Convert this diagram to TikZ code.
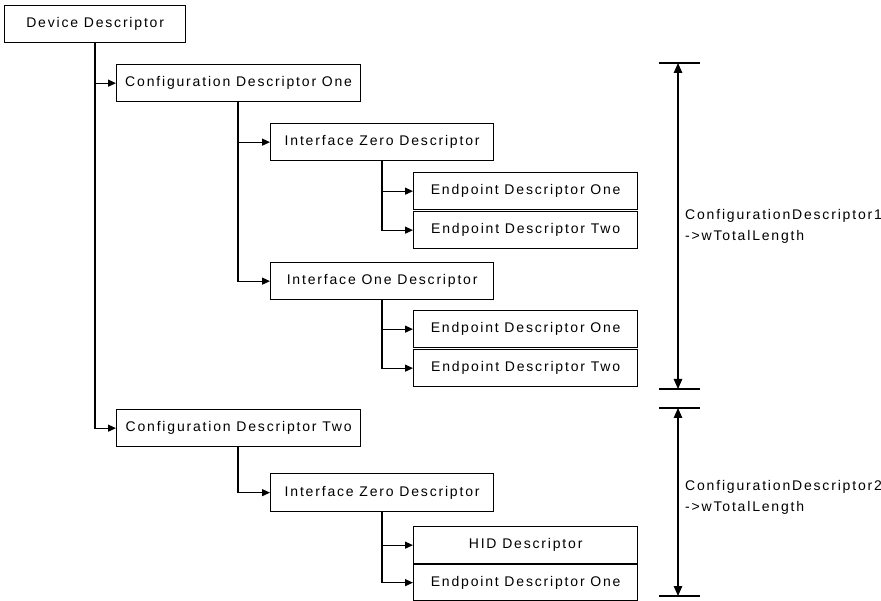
\documentclass[tikz,border=0pt]{standalone}
\usepackage{fontspec}
\setmainfont{Liberation Sans}[LetterSpace=13]
\usetikzlibrary{arrows.meta}
\begin{document}
\begin{tikzpicture}[x=1pt,y=-1pt,
  txt/.style={font=\fontsize{14}{21}\selectfont},
  box/.style={txt, draw, line width=1.3pt, minimum height=37pt, inner sep=0pt, anchor=north west},
  cfgbox/.style={box, minimum width=244pt},
  ifbox/.style={box, minimum width=223pt},
  epbox/.style={box, minimum width=224pt},
  tip/.tip={Triangle[length=8pt,width=7pt]},
  dimtip/.tip={Triangle[length=10pt,width=8.5pt]},
  conn/.style={line width=1.2pt, -tip},
  dim/.style={line width=1.2pt, dimtip-dimtip},
  tickline/.style={line width=1.2pt}]
\useasboundingbox (0,0) rectangle (881,601);

% descriptor boxes
\node[box, minimum width=181pt] (dev) at (4,5) {Device Descriptor};
\node[cfgbox] (cfg1) at (116,64) {Configuration Descriptor One};
\node[ifbox] (if0) at (270,123) {Interface Zero Descriptor};
\node[epbox] (ep1) at (413,172) {Endpoint Descriptor One};
\node[epbox] (ep2) at (413,211) {Endpoint Descriptor Two};
\node[ifbox] (if1) at (270,262) {Interface One Descriptor};
\node[epbox] (ep3) at (413,310) {Endpoint Descriptor One};
\node[epbox] (ep4) at (413,349) {Endpoint Descriptor Two};
\node[cfgbox] (cfg2) at (116,409) {Configuration Descriptor Two};
\node[ifbox, minimum height=38pt] (if2) at (270,473) {Interface Zero Descriptor};
\node[epbox] (hid) at (413,526) {HID Descriptor};
\node[epbox, minimum height=36pt] (ep5) at (413,564) {Endpoint Descriptor One};

% tree connectors
\draw[conn] (dev.south west) ++(91,0) |- (cfg1.west);
\draw[conn] (dev.south west) ++(91,0) |- (cfg2.west);
\draw[conn] (cfg1.south west) ++(122,0) |- (if0.west);
\draw[conn] (cfg1.south west) ++(122,0) |- (if1.west);
\draw[conn] (if0.south west) ++(112,0) |- (ep1.west);
\draw[conn] (if0.south west) ++(112,0) |- (ep2.west);
\draw[conn] (if1.south west) ++(112,0) |- (ep3.west);
\draw[conn] (if1.south west) ++(112,0) |- (ep4.west);
\draw[conn] (cfg2.south west) ++(122,0) |- (if2.west);
\draw[conn] (if2.south west) ++(112,0) |- (hid.west);
\draw[conn] (if2.south west) ++(112,0) |- (ep5.west);

% wTotalLength dimension markers
\coordinate (a1) at (678,63);
\coordinate (b1) at (678,389);
\coordinate (a2) at (678,408);
\coordinate (b2) at (678,596);
\foreach \p in {a1,b1,a2,b2}
  \draw[tickline] ([xshift=-19pt]\p) -- ([xshift=22pt]\p);
\draw[dim] (a1) -- (b1);
\draw[dim] (a2) -- (b2);
\node[txt, anchor=west, align=left, inner sep=0pt] (len1) at (685,226)
  {ConfigurationDescriptor1\\->wTotalLength};
\node[txt, anchor=west, align=left, inner sep=0pt] (len2) at (685,497)
  {ConfigurationDescriptor2\\->wTotalLength};
\end{tikzpicture}
\end{document}
